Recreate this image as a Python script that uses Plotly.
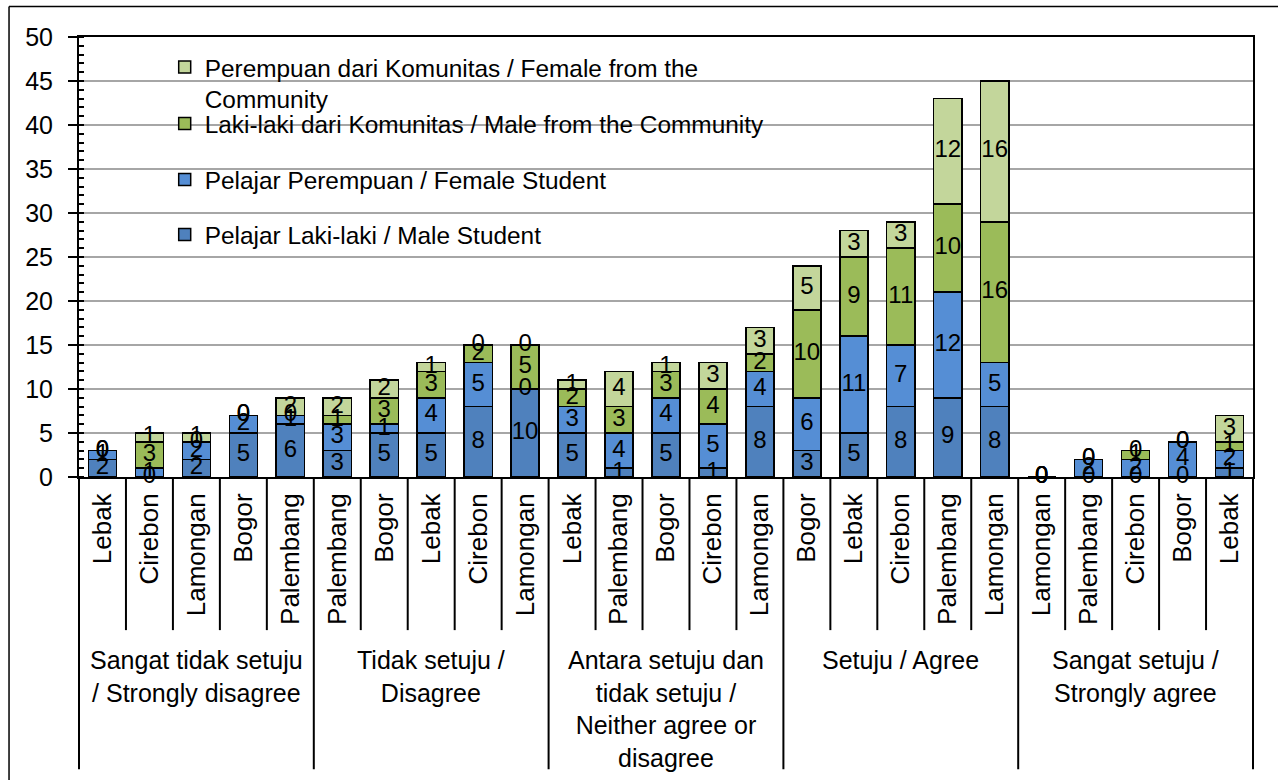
import plotly.graph_objects as go

# ---------------- data ----------------
groups = [
    "Sangat tidak setuju<br>/ Strongly disagree",
    "Tidak setuju /<br>Disagree",
    "Antara setuju dan<br>tidak setuju /<br>Neither agree or<br>disagree",
    "Setuju / Agree",
    "Sangat setuju /<br>Strongly agree",
]
cities = [
    "Lebak", "Cirebon", "Lamongan", "Bogor", "Palembang",
    "Palembang", "Bogor", "Lebak", "Cirebon", "Lamongan",
    "Lebak", "Palembang", "Bogor", "Cirebon", "Lamongan",
    "Bogor", "Lebak", "Cirebon", "Palembang", "Lamongan",
    "Lamongan", "Palembang", "Cirebon", "Bogor", "Lebak",
]
male_student = [2, 0, 2, 5, 6, 3, 5, 5, 8, 10, 5, 1, 5, 1, 8, 3, 5, 8, 9, 8, 0, 0, 0, 0, 1]
female_student = [1, 1, 2, 2, 1, 3, 1, 4, 5, 0, 3, 4, 4, 5, 4, 6, 11, 7, 12, 5, 0, 2, 2, 4, 2]
male_community = [0, 3, 0, 0, 0, 1, 3, 3, 2, 5, 2, 3, 3, 4, 2, 10, 9, 11, 10, 16, 0, 0, 1, 0, 1]
female_community = [0, 1, 1, 0, 2, 2, 2, 1, 0, 0, 1, 4, 1, 3, 3, 5, 3, 3, 12, 16, 0, 0, 0, 0, 3]

series_names = [
    "Pelajar Laki-laki / Male Student",
    "Pelajar Perempuan / Female Student",
    "Laki-laki dari Komunitas / Male from the Community",
    " <br>Perempuan dari Komunitas / Female from the<br>Community",
]
series_values = [male_student, female_student, male_community, female_community]
series_colors = ["#4F81BD", "#558ED5", "#9BBB59", "#C3D69B"]
series_legends = ["legend4", "legend3", "legend2", "legend"]

FONT = "Arial, 'Liberation Sans', sans-serif"
n = len(cities)
xs = list(range(n))
per_group = n // len(groups)

fig = go.Figure()
base = [0] * n
for name, vals, color, leg in zip(series_names, series_values, series_colors, series_legends):
    fig.add_trace(go.Bar(
        x=xs, y=vals, name=name, width=0.6,
        marker=dict(color=color, line=dict(color="black", width=1.5)),
        legend=leg, hoverinfo="skip",
    ))
    mids = [b + v / 2 for b, v in zip(base, vals)]
    fig.add_trace(go.Scatter(
        x=xs, y=mids, mode="text", text=[str(v) for v in vals],
        textposition="middle center",
        textfont=dict(family=FONT, size=24, color="black"),
        showlegend=False, cliponaxis=False, hoverinfo="skip",
    ))
    base = [b + v for b, v in zip(base, vals)]

shapes = []
# separators between cities (short) and between groups (long)
for k in range(1, n):
    y1 = -0.664 if k % per_group == 0 else -0.348
    shapes.append(dict(type="line", xref="x", yref="paper", x0=k - 0.5, x1=k - 0.5,
                       y0=0, y1=y1, line=dict(color="black", width=2), layer="above"))
for xp in (0, 1):
    shapes.append(dict(type="line", xref="paper", yref="paper", x0=xp, x1=xp,
                       y0=0, y1=-0.664, line=dict(color="black", width=2), layer="above"))
# outer chart frame (left and top edges visible)
shapes.append(dict(type="line", xref="paper", yref="paper", x0=-0.0596, x1=-0.0596,
                   y0=-0.75, y1=1.0694, line=dict(color="black", width=1.5), layer="above"))
shapes.append(dict(type="line", xref="paper", yref="paper", x0=-0.0596, x1=1.03,
                   y0=1.0694, y1=1.0694, line=dict(color="black", width=1.5), layer="above"))

annotations = []
for gi, g in enumerate(groups):
    annotations.append(dict(
        x=gi * per_group + (per_group - 1) / 2, xref="x", y=-0.379, yref="paper",
        yanchor="top", xanchor="center", showarrow=False, align="center",
        text=g, font=dict(family=FONT, size=25, color="black"),
    ))

leg_common = dict(x=0.073, xanchor="left", yanchor="middle", bgcolor="rgba(0,0,0,0)",
                  borderwidth=0, font=dict(family=FONT, size=24.4, color="black"))

fig.update_layout(
    width=1278, height=780, autosize=False,
    margin=dict(l=79, r=25, t=37, b=303),
    paper_bgcolor="white", plot_bgcolor="white",
    barmode="stack",
    font=dict(family=FONT, size=24, color="black"),
    xaxis=dict(range=[-0.5, n - 0.5], tickmode="array", tickvals=xs, ticktext=cities,
               tickangle=-90, ticks="", showline=True, linecolor="black", linewidth=2,
               mirror=True, showgrid=False, zeroline=False, ticklabelstandoff=4,
               tickfont=dict(family=FONT, size=26, color="black")),
    yaxis=dict(range=[0, 50], tick0=0, dtick=5, ticks="outside", ticklen=9, tickwidth=2,
               tickcolor="black", showline=True, linecolor="black", linewidth=2, mirror=True,
               showgrid=True, gridcolor="#A6A6A6", gridwidth=1.5, zeroline=False,
               ticklabelstandoff=10,
               tickfont=dict(family=FONT, size=25, color="black"),
               minor=dict(ticks="inside", ticklen=5, dtick=1, tick0=0, tickcolor="black",
                          tickwidth=1.5, showgrid=False)),
    legend=dict(y=0.9306, **leg_common),
    legend2=dict(y=0.8032, **leg_common),
    legend3=dict(y=0.6758, **leg_common),
    legend4=dict(y=0.5506, **leg_common),
    shapes=shapes,
    annotations=annotations,
)

fig.write_html("out.html", config={"displayModeBar": False},
               post_script="document.body.style.margin='0';")
